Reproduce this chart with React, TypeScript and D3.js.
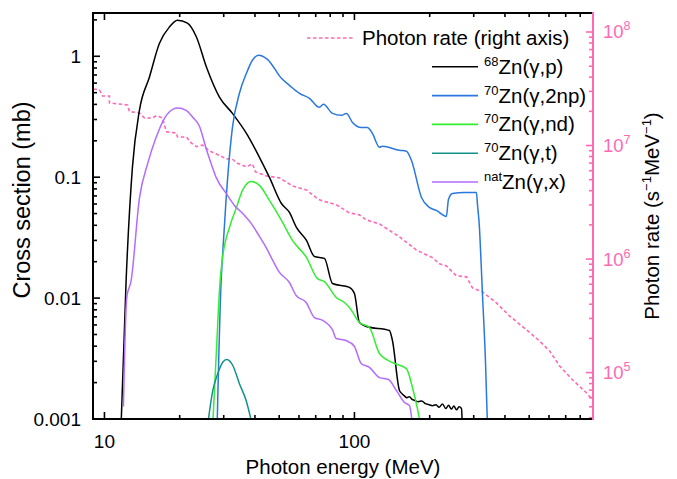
import React from "react";
import * as d3 from "d3";

// ---------- data ----------
// 68Zn(γ,p)
const pE = [11.66, 12.21, 12.94, 13.8, 15.14, 16.6, 18.2, 19.59, 21.48, 23.33, 25.58, 28.84, 32.51, 36.98, 41.69, 45.71, 51.05, 54.95, 58.61, 64.27, 69.18, 75.86, 81.66, 95.5, 100, 104.7, 111.7, 138, 141.9, 151.4, 155, 158, 162, 166, 170, 175, 180, 186, 192, 198, 205, 212, 218, 225, 232, 238, 244, 250, 256, 262, 268, 270];
const pS = [0.0009, 0.014, 0.1205, 0.357, 0.674, 1.28, 1.75, 1.99, 1.88, 1.445, 0.815, 0.46, 0.337, 0.23, 0.146, 0.0996, 0.0606, 0.0511, 0.0384, 0.03, 0.0221, 0.0213, 0.0132, 0.01225, 0.0109, 0.00628, 0.00582, 0.0054, 0.00446, 0.00172, 0.00162, 0.00156, 0.0015, 0.00153, 0.00145, 0.00142, 0.00139, 0.00141, 0.00134, 0.00132, 0.00129, 0.00131, 0.00125, 0.00133, 0.00122, 0.0013, 0.00121, 0.00128, 0.00119, 0.00126, 0.00122, 0.0009];

// 70Zn(γ,2np)
const npE = [28.24, 29.3, 29.65, 30.68, 31.05, 32.51, 34.67, 36.98, 39.08, 41.3, 44.87, 51.05, 54.95, 60.26, 66.07, 72.44, 75.16, 81.66, 88.72, 92.9, 98.2, 106.7, 112.7, 118, 125.9, 129.4, 151.4, 161.4, 169, 185.4, 199.5, 212.8, 233.3, 237.7, 246.6, 275.4, 307.6, 310.5, 316.2, 322.1, 325.1, 334.2, 340.4];
const npS = [0.0009, 0.014, 0.0217, 0.0668, 0.0941, 0.258, 0.494, 0.723, 0.927, 1.02, 0.944, 0.657, 0.575, 0.494, 0.449, 0.378, 0.401, 0.337, 0.325, 0.337, 0.284, 0.258, 0.258, 0.23, 0.177, 0.18, 0.167, 0.164, 0.138, 0.068, 0.0562, 0.0531, 0.0474, 0.0655, 0.0734, 0.0748, 0.0748, 0.0596, 0.0384, 0.0169, 0.0109, 0.00304, 0.0009];

// 70Zn(γ,nd)
const ndE = [27.12, 28.05, 29.03, 29.65, 31.62, 33.73, 35.65, 38.63, 41.69, 45.71, 51.05, 56.49, 64.27, 71.12, 75.86, 84.72, 91.2, 95.5, 104.7, 114.8, 125.9, 141.9, 161.4, 170.6, 178.6, 183.7];
const ndS = [0.0009, 0.00368, 0.014, 0.0213, 0.0384, 0.0562, 0.0778, 0.0923, 0.0855, 0.0643, 0.0439, 0.03, 0.0217, 0.0145, 0.0137, 0.0101, 0.0092, 0.00836, 0.00628, 0.00571, 0.00348, 0.00293, 0.00261, 0.00182, 0.00122, 0.0009];

// 70Zn(γ,t)
const tE = [25.89, 27.12, 28.4, 29.74, 30.85, 32.61, 34.67, 36.88, 38.97];
const tS = [0.0009, 0.00172, 0.00238, 0.00295, 0.0031, 0.00277, 0.00196, 0.00142, 0.0009];

// natZn(γ,x)
const xE = [11.91, 12.28, 12.79, 13.8, 14.9, 16.1, 17.38, 18.76, 19.65, 21.23, 22.55, 23.99, 25.51, 27.04, 27.98, 30.68, 33.11, 35.74, 38.63, 41.69, 44.36, 47.12, 50.12, 54.95, 58.47, 64.1, 69.18, 74.67, 81.88, 84.5, 92.63, 100, 106.4, 114.8, 125.9, 136.8, 147.2, 158.5, 166, 170.6];
const xS = [0.00127, 0.0101, 0.014, 0.0668, 0.13, 0.2135, 0.307, 0.364, 0.373, 0.357, 0.313, 0.264, 0.173, 0.1205, 0.0996, 0.0734, 0.0584, 0.0501, 0.0415, 0.0324, 0.0262, 0.0205, 0.0163, 0.01346, 0.0105, 0.0092, 0.0069, 0.00653, 0.0054, 0.00463, 0.00446, 0.00398, 0.00288, 0.00267, 0.0022, 0.00212, 0.00172, 0.00137, 0.00129, 0.0009];

// Photon rate (right axis)
const rateE = [9.04, 9.55, 9.82, 10.47, 10.47, 12.36, 12.59, 13.8, 14.45, 15.56, 16.14, 17.06, 17.7, 19.41, 19.59, 21.28, 22.28, 23.33, 24.66, 26.3, 28.05, 30.76, 32.51, 33.73, 36.98, 39.08, 40.18, 44.46, 50.12, 56.49, 64.27, 70.47, 72.44, 84.72, 95.5, 104.7, 111.7, 125.9, 151.4, 177, 205.1, 218.8, 233.3, 255.9, 280.5, 296.5, 325.1, 369.8, 416.9, 487.5, 549.5, 602.6, 660.7, 744.7, 847.2, 895.4];
const rateV = [3.15e7, 3.09e7, 2.73e7, 2.73e7, 2.37e7, 2.28e7, 1.99e7, 1.94e7, 1.75e7, 1.75e7, 1.83e7, 1.75e7, 1.32e7, 1.29e7, 1.19e7, 1.19e7, 1.05e7, 9.78e6, 1.01e7, 8.95e6, 8.43e6, 7.62e6, 7.62e6, 7.03e6, 6.48e6, 6.89e6, 5.86e6, 5.4e6, 5.19e6, 4.41e6, 4.06e6, 3.46e6, 3.32e6, 3.0e6, 2.55e6, 2.45e6, 2.21e6, 2.04e6, 1.57e6, 1.2e6, 1.03e6, 9.08e5, 8.71e5, 7.11e5, 6.97e5, 5.57e5, 5.14e5, 4.11e5, 3.16e5, 2.38e5, 1.9e5, 1.56e5, 1.15e5, 8.65e4, 6.64e4, 5.76e4];

const legendSup = ["68", "70", "70", "70", "nat"];
const legendMain = ["Zn(γ,p)", "Zn(γ,2np)", "Zn(γ,nd)", "Zn(γ,t)", "Zn(γ,x)"];
const xTickLabels = ["10", "100"];
const yTickLabels = ["0.001", "0.01", "0.1", "1"];
const rTickExp = ["5", "6", "7", "8"];

// ---------- layout ----------
const W = 677, H = 479;
const L = 93, R = 593, T = 13, B = 419;
const FONT = "'Liberation Sans', Arial, Helvetica, sans-serif";
const PINK = "#ff69b4";
const COLORS = ["#000000", "#2878e0", "#33ee33", "#12928a", "#b36cff"];

export default function App() {
  const x = d3.scaleLog().domain([9, 900]).range([L, R]);
  const yL = d3.scaleLog().domain([0.001, 2.28]).range([B, T]);
  const yR = d3.scaleLog().domain([3.9e4, 1.47e8]).range([B, T]);

  const line = d3.line<[number, number]>().x(d => x(d[0])).y(d => yL(d[1])).curve(d3.curveMonotoneX);
  const lineR = d3.line<[number, number]>().x(d => x(d[0])).y(d => yR(d[1]));

  const series: [number[], number[]][] = [[pE, pS], [npE, npS], [ndE, ndS], [tE, tS], [xE, xS]];
  const paths = series.map(([e, s]) => line(e.map((v, i) => [v, s[i]] as [number, number])) || "");
  const ratePath = lineR(rateE.map((v, i) => [v, rateV[i]] as [number, number])) || "";

  const isMajor = (v: number) => Math.abs(Math.log10(v) - Math.round(Math.log10(v))) < 1e-9;
  const xt = x.ticks().filter(v => x(v) > L + 0.5 && x(v) < R - 0.5);
  const ylt = yL.ticks().filter(v => yL(v) < B - 0.5 && yL(v) > T + 0.5);
  const yltAll = yL.ticks().filter(v => yL(v) <= B + 0.5 && yL(v) > T + 0.5);
  const yrt = yR.ticks().filter(v => yR(v) < B - 1 && yR(v) > T + 0.5);

  const majX = xt.filter(isMajor);
  const majYL = yltAll.filter(isMajor);
  const majYR = yrt.filter(isMajor);

  const legendY0 = 38, legendDy = 28.8;

  return (
    <svg width={W} height={H} style={{ position: "absolute", left: 0, top: 0, background: "#fff" }} fontFamily={FONT}>
      <defs>
        <clipPath id="plot">
          <rect x={L} y={T} width={R - L} height={B - T} />
        </clipPath>
      </defs>

      {/* curves */}
      <g clipPath="url(#plot)" fill="none">
        <path d={ratePath} stroke={PINK} strokeWidth={1.6} strokeDasharray="3.5,2.5" />
        {paths.map((d, i) => (
          <path key={i} d={d} stroke={COLORS[i]} strokeWidth={1.5} strokeLinejoin="round" />
        ))}
      </g>

      {/* x ticks bottom and top */}
      {xt.map((v, i) => {
        const len = isMajor(v) ? 7 : 4;
        return (
          <g key={"xt" + i} stroke="#000" strokeWidth={1.6}>
            <line x1={x(v)} x2={x(v)} y1={B} y2={B - len} />
            <line x1={x(v)} x2={x(v)} y1={T} y2={T + len} />
          </g>
        );
      })}
      {majX.map((v, i) => (
        <text key={"xl" + i} x={x(v)} y={448} fontSize={19} textAnchor="middle" fill="#000">{xTickLabels[i]}</text>
      ))}

      {/* left y ticks */}
      {ylt.map((v, i) => {
        const len = isMajor(v) ? 7 : 4;
        return <line key={"yt" + i} x1={L} x2={L + len} y1={yL(v)} y2={yL(v)} stroke="#000" strokeWidth={1.6} />;
      })}
      {majYL.map((v, i) => (
        <text key={"yl" + i} x={81} y={yL(v)} dy="0.35em" fontSize={19} textAnchor="end" fill="#000">{yTickLabels[i]}</text>
      ))}

      {/* right y ticks */}
      {yrt.map((v, i) => {
        const len = isMajor(v) ? 7 : 4;
        return <line key={"yr" + i} x1={R} x2={R - len} y1={yR(v)} y2={yR(v)} stroke={PINK} strokeWidth={1.6} />;
      })}
      {majYR.map((v, i) => (
        <text key={"yrl" + i} x={603} y={yR(v)} dy="0.35em" fontSize={18.5} fill={PINK}>
          10<tspan dy="-8" fontSize={12.5}>{rTickExp[i]}</tspan>
        </text>
      ))}

      {/* frame */}
      <line x1={L} x2={R} y1={T} y2={T} stroke="#000" strokeWidth={2} />
      <line x1={L} x2={R} y1={B} y2={B} stroke="#000" strokeWidth={2} />
      <line x1={L} x2={L} y1={T - 1} y2={B + 1} stroke="#000" strokeWidth={2} />
      <line x1={R} x2={R} y1={T - 1} y2={B + 1} stroke={PINK} strokeWidth={2} />

      {/* axis titles */}
      <text x={(L + R) / 2} y={474} fontSize={20.5} textAnchor="middle" fill="#000">Photon energy (MeV)</text>
      <text transform={`translate(30,200) rotate(-90)`} fontSize={23.5} textAnchor="middle" fill="#000">Cross section (mb)</text>
      <text transform={`translate(659,${(T + B) / 2}) rotate(-90)`} fontSize={20.5} textAnchor="middle" fill="#000">
        Photon rate (s<tspan dy="-8" fontSize={13}>−1</tspan><tspan dy="8">MeV</tspan><tspan dy="-8" fontSize={13}>−1</tspan><tspan dy="8">)</tspan>
      </text>

      {/* legend */}
      <line x1={307} x2={353} y1={legendY0} y2={legendY0} stroke={PINK} strokeWidth={1.6} strokeDasharray="3.5,2.5" />
      <text x={362} y={legendY0 + 7} fontSize={20.5} fill="#000">Photon rate (right axis)</text>
      {legendMain.map((m, i) => {
        const yy = legendY0 + legendDy * (i + 1);
        return (
          <g key={"lg" + i}>
            <line x1={432} x2={478} y1={yy} y2={yy} stroke={COLORS[i]} strokeWidth={1.6} />
            <text x={484} y={yy + 7} fontSize={20.5} fill="#000">
              <tspan dy="-8" fontSize={13}>{legendSup[i]}</tspan>
              <tspan dy="8">{m}</tspan>
            </text>
          </g>
        );
      })}
    </svg>
  );
}
